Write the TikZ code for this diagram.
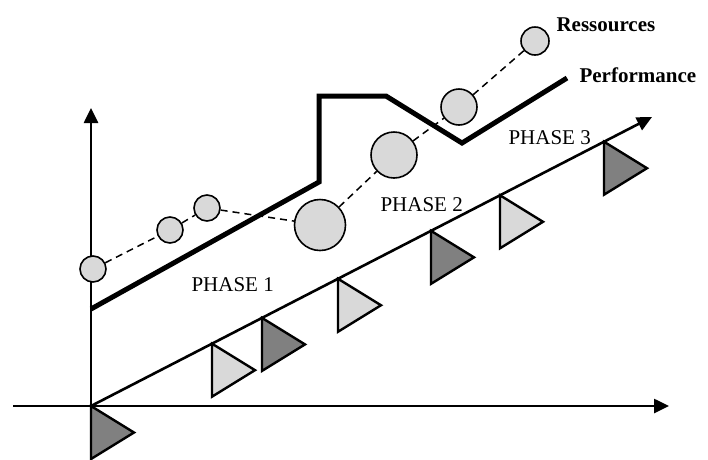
\documentclass[tikz,border=0pt]{standalone}
\usepackage{fontspec}
\setmainfont{Liberation Serif}
\usepackage{tikz}
\usetikzlibrary{arrows.meta}
\usetikzlibrary{calc}

\definecolor{grisclair}{RGB}{217,217,217}
\definecolor{grisfonce}{RGB}{128,128,128}

\begin{document}
\begin{tikzpicture}[x=1pt, y=-1pt, >={Triangle[length=15pt,width=14pt]},
    axe/.style={line width=2.6pt},
    bulle/.style={circle, draw, line width=1.6pt, fill=grisclair, inner sep=0pt},
    pointille/.style={line width=1.5pt, dash pattern=on 7pt off 5pt},
    fanion/.style={line width=2.4pt, line join=miter},
    phase/.style={font=\fontsize{21}{24}\selectfont, anchor=base west},
    legende/.style={font=\fontsize{21}{24}\selectfont\bfseries, anchor=base west}]

    % === Cadre (taille de l'image) ===
    \useasboundingbox (0,0) rectangle (708,459);

    % === Origine et extremites des axes ===
    \coordinate (O) at (91,406);
    \coordinate (Xg) at (13,406);
    \coordinate (Xd) at (669,406);
    \coordinate (Yh) at (91,108);
    \coordinate (Dh) at (652,117);

    % === 1. Fanions le long de l'axe des phases ===
    \foreach \x/\col in {91/grisfonce, 212/grisclair, 262/grisfonce, 338/grisclair,
                          431/grisfonce, 500/grisclair, 604/grisfonce} {
        \pgfmathsetmacro{\y}{406 - (\x-91)*0.5152}
        \draw[fanion, fill=\col] (\x,\y) -- ++(0,53) -- ++(43,-26.5) -- cycle;
    }

    % === 2. Axes ===
    \draw[axe, ->] (Xg) -- (Xd);
    \draw[axe, ->] (O) -- (Yh);
    \draw[axe, ->] (O) -- (Dh);

    % === 3. Courbe de performance ===
    \coordinate (P1) at (91,309);
    \coordinate (P2) at (319,182);
    \coordinate (P3) at (319,96);
    \coordinate (P4) at (386,96);
    \coordinate (P5) at (462,143);
    \coordinate (P6) at (567,78);
    \draw[line width=5pt, line join=miter] (P1) -- (P2) -- (P3) -- (P4) -- (P5) -- (P6);

    % === 4. Ressources (bulles reliees en pointille) ===
    \node[bulle, minimum size=26pt] (r1) at (93,269) {};
    \node[bulle, minimum size=26pt] (r2) at (170,230) {};
    \node[bulle, minimum size=26pt] (r3) at (207,208) {};
    \node[bulle, minimum size=51pt] (r4) at (320,225) {};
    \node[bulle, minimum size=46pt] (r5) at (394,155) {};
    \node[bulle, minimum size=36pt] (r6) at (459,107) {};
    \node[bulle, minimum size=28pt] (r7) at (535,41) {};
    \foreach \a/\b in {r1/r2, r2/r3, r3/r4, r4/r5, r5/r6, r6/r7} {
        \draw[pointille] (\a) -- (\b);
    }

    % === 5. Etiquettes ===
    \node[phase] (ph1) at (188,291) {PHASE 1};
    \node[phase] (ph2) at (377,211) {PHASE 2};
    \node[phase] (ph3) at (505,144) {PHASE 3};
    \node[legende] (res) at (553,31) {Ressources};
    \node[legende] (perf) at (576,82) {Performance};

\end{tikzpicture}
\end{document}
